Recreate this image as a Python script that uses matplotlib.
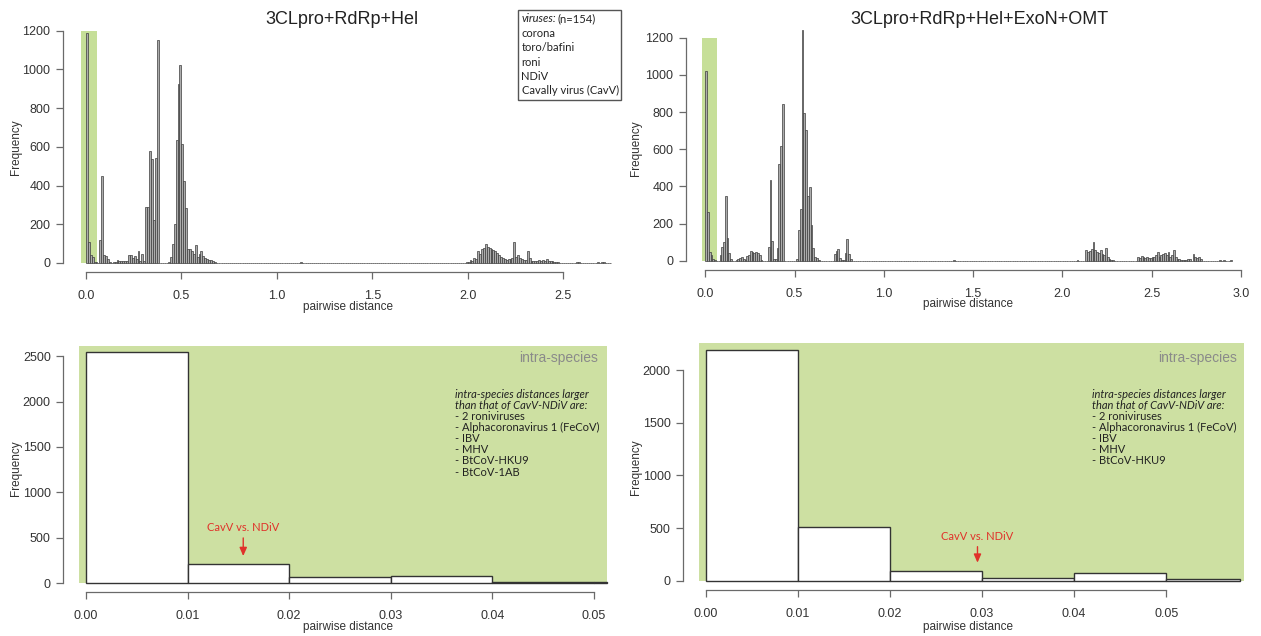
import matplotlib
matplotlib.use('Agg')
import matplotlib.pyplot as plt
import numpy as np
from matplotlib.patches import Rectangle

# ---------------- data ----------------
BIN_W = 0.01
# top-left histogram (3CLpro+RdRp+Hel): bin index (width 0.01) and counts
tl_bins = [0, 1, 2, 3, 4, 5, 7, 8, 9, 10, 11, 12,
           14, 15, 16, 17, 18, 19, 20, 21, 22, 23, 24, 25, 26, 27, 28, 29, 30,
           31, 32, 33, 34, 35, 36, 37,
           43, 44, 45, 46, 47, 48, 49, 50, 51, 52, 53, 54, 55, 56, 57, 58, 59,
           60, 61, 62, 63, 64, 65, 66, 67,
           112,
           199, 200, 201, 202, 203, 204, 205, 206, 207, 208, 209, 210, 211, 212,
           213, 214, 215, 216, 217, 218, 219, 220, 221, 222, 223, 224, 225, 226,
           227, 228, 229, 230, 231, 232, 233, 234, 235, 236, 237, 238, 239, 240,
           241, 242, 243, 244, 245, 246, 247, 257, 258, 268, 270, 271, 274]
tl_counts = [1190, 110, 40, 30, 5, 3, 120, 450, 42, 38, 20, 5,
             5, 3, 14, 8, 10, 8, 12, 12, 42, 40, 28, 35, 20, 62, 8, 45, 10,
             290, 290, 580, 535, 220, 540, 1150,
             3, 31, 100, 203, 634, 927, 1022, 617, 422, 286, 74, 70, 60, 45, 91, 30, 48,
             60, 34, 28, 22, 17, 14, 8, 4,
             3,
             3, 5, 15, 10, 25, 20, 60, 45, 70, 80, 100, 85, 80, 72,
             65, 60, 50, 40, 30, 25, 20, 18, 22, 20, 25, 110, 30, 40,
             25, 20, 15, 15, 60, 25, 12, 10, 10, 10, 15, 10, 18, 10,
             20, 10, 12, 8, 5, 5, 3, 3, 3, 3, 4, 4, 2]

# top-right histogram (3CLpro+RdRp+Hel+ExoN+OMT)
tr_bins = [0, 1, 2, 3, 4, 5, 8, 9, 10, 11, 12, 13, 14,
           17, 18, 19, 20, 21, 22, 23, 24, 25, 26, 27, 28, 29, 30, 31,
           35, 36, 37, 38, 39, 40, 41, 42, 43,
           51, 52, 53, 54, 55, 56, 57, 58, 59, 60, 61, 62, 63,
           72, 73, 74, 75, 76, 77, 78, 79, 80, 81,
           139, 208,
           213, 214, 215, 216, 217, 218, 219, 220, 221, 222, 223, 224, 225, 226, 227, 228,
           242, 243, 244, 245, 246, 247, 248, 249, 250, 251, 252, 253, 254, 255, 256,
           257, 258, 259, 260, 261, 262, 263, 264, 265, 266, 267, 268, 269, 270, 271,
           273, 274, 275, 276, 277, 288, 290, 294]
tr_counts = [1020, 260, 48, 30, 10, 3, 30, 75, 102, 348, 120, 40, 7,
             5, 8, 15, 18, 10, 5, 25, 30, 50, 45, 40, 45, 40, 28, 5,
             72, 434, 108, 7, 10, 66, 520, 619, 843,
             10, 165, 280, 1241, 793, 703, 350, 398, 190, 66, 22, 16, 5,
             36, 54, 61, 12, 6, 6, 40, 115, 34, 7,
             3, 2,
             57, 48, 52, 63, 99, 60, 48, 39, 57, 34, 30, 66, 21, 10, 5, 3,
             21, 12, 27, 18, 12, 18, 12, 15, 21, 18, 30, 48, 21, 28, 34,
             39, 30, 45, 20, 30, 57, 21, 10, 7, 5, 5, 5, 5, 9, 9,
             34, 18, 15, 20, 7, 3, 5, 2]

# bottom panels (intra-species zoom)
bl_edges = [0.0, 0.01, 0.02, 0.03, 0.04, 0.05, 0.0513]
bl_counts = [2540, 212, 69, 77, 12, 12]
br_edges = [0.0, 0.01, 0.02, 0.03, 0.04, 0.05, 0.058]
br_counts = [2190, 513, 95, 22, 70, 16]

top_left_xticks = [0.0, 0.5, 1.0, 1.5, 2.0, 2.5]
top_right_xticks = [0.0, 0.5, 1.0, 1.5, 2.0, 2.5, 3.0]
top_yticks = [0, 200, 400, 600, 800, 1000, 1200]
bottom_xticks = [0.00, 0.01, 0.02, 0.03, 0.04, 0.05]
bl_yticks = [0, 500, 1000, 1500, 2000, 2500]
br_yticks = [0, 500, 1000, 1500, 2000]

legend_lines = ["corona", "toro/bafini", "roni", "NDiV", "Cavally virus (CavV)"]
bl_note = ["- 2 roniviruses", "- Alphacoronavirus 1 (FeCoV)", "- IBV", "- MHV",
           "- BtCoV-HKU9", "- BtCoV-1AB"]
br_note = ["- 2 roniviruses", "- Alphacoronavirus 1 (FeCoV)", "- IBV", "- MHV",
           "- BtCoV-HKU9"]

# ---------------- figure ----------------
W, H = 1261, 636
fig = plt.figure(figsize=(W / 100, H / 100), dpi=100)
RF = 'Liberation Sans'
AF = 'Lato'
AXC = '#6a6a6a'
TXC = '#333333'
GREEN_T = '#c6df98'
GREEN_B = '#cde0a2'
RED = '#e0322a'


def ax_px(x0, x1, ytop, ybot):
    return fig.add_axes([x0 / W, 1 - ybot / H, (x1 - x0) / W, (ybot - ytop) / H])


def ftext(x, y, s, **kw):
    fig.text(x / W, 1 - y / H, s, **kw)


def style(ax, xt, xl, yt, xb, yb):
    for s in ['top', 'right']:
        ax.spines[s].set_visible(False)
    for s in ['left', 'bottom']:
        ax.spines[s].set_color(AXC)
        ax.spines[s].set_linewidth(0.9)
    ax.spines['left'].set_bounds(*yb)
    ax.spines['bottom'].set_bounds(*xb)
    ax.set_xticks(xt)
    ax.set_xticklabels(xl)
    ax.set_yticks(yt)
    ax.set_yticklabels([str(v) for v in yt])
    ax.tick_params(direction='out', length=5, width=0.9, color=AXC,
                   labelsize=9, labelcolor=TXC)
    ax.tick_params(axis='x', pad=8)
    ax.tick_params(axis='y', pad=4)
    for lab in ax.get_xticklabels() + ax.get_yticklabels():
        lab.set_fontfamily(RF)
    ax.patch.set_alpha(0)


def top_hist(ax, bins, counts):
    n = max(bins) + 1
    full = np.zeros(n)
    full[np.array(bins)] = counts
    lefts = np.arange(n) * BIN_W
    ax.bar(lefts, full, width=BIN_W, align='edge', color='#acacac',
           edgecolor='#3c3c3c', linewidth=0.5, zorder=2)


# ---- top-left
ax1 = ax_px(63, 634, 23.4, 272)
ax1.add_patch(Rectangle((-0.025, 0), 0.083, 1200, facecolor=GREEN_T,
                        edgecolor='none', zorder=0))
top_hist(ax1, tl_bins, tl_counts)
ax1.set_xlim(-0.1205, 2.872)
ax1.set_ylim(-46.5, 1237.6)
style(ax1, top_left_xticks, [f"{v:.1f}" for v in top_left_xticks], top_yticks,
      (0, 2.5), (0, 1200))

# ---- top-right
ax2 = ax_px(686, 1254, 20.9, 269.6)
ax2.add_patch(Rectangle((-0.02, 0), 0.084, 1200, facecolor=GREEN_T,
                        edgecolor='none', zorder=0))
top_hist(ax2, tr_bins, tr_counts)
ax2.set_xlim(-0.108, 3.074)
ax2.set_ylim(-47.9, 1290.6)
style(ax2, top_right_xticks, [f"{v:.1f}" for v in top_right_xticks], top_yticks,
      (0, 3.0), (0, 1200))

# ---- bottom-left
ax3 = ax_px(63.3, 614.3, 343.2, 592.3)
ax3.add_patch(Rectangle((-0.0007, 0), 0.052, 2610, facecolor=GREEN_B,
                        edgecolor='none', zorder=0))
ax3.bar(bl_edges[:-1], bl_counts, width=np.diff(bl_edges), align='edge',
        color='white', edgecolor='#333333', linewidth=1.0, zorder=2)
ax3.set_xlim(-0.00223, 0.0520)
ax3.set_ylim(-99, 2641.6)
style(ax3, bottom_xticks, [f"{v:.2f}" for v in bottom_xticks], bl_yticks,
      (0, 0.05), (0, 2500))

# ---- bottom-right
ax4 = ax_px(683.3, 1261, 340.8, 590)
ax4.add_patch(Rectangle((-0.0008, 0), 0.0593, 2254, facecolor=GREEN_B,
                        edgecolor='none', zorder=0))
ax4.bar(br_edges[:-1], br_counts, width=np.diff(br_edges), align='edge',
        color='white', edgecolor='#333333', linewidth=1.0, zorder=2)
ax4.set_xlim(-0.00246, 0.0603)
ax4.set_ylim(-88.3, 2277.6)
style(ax4, bottom_xticks, [f"{v:.2f}" for v in bottom_xticks], br_yticks,
      (0, 0.05), (0, 2000))

# ---- red annotations
for ax, xd, y_txt, y0, y1 in [(ax3, 0.01548, 612, 499, 300),
                              (ax4, 0.0295, 418, 323, 171)]:
    ax.text(xd, y_txt, "CavV vs. NDiV", color=RED, fontsize=8, family=AF,
            ha='center', va='center', zorder=5)
    ax.annotate("", xy=(xd, y1), xytext=(xd, y0),
                arrowprops=dict(arrowstyle='-|>,head_length=0.5,head_width=0.22',
                                color=RED, lw=1.0, shrinkA=0, shrinkB=0), zorder=5)

# ---- text labels (figure pixels)
ftext(342, 19, "3CLpro+RdRp+Hel", fontsize=13, family=RF, ha='center',
      va='center', color='#222')
ftext(979, 19, "3CLpro+RdRp+Hel+ExoN+OMT", fontsize=13, family=RF, ha='center',
      va='center', color='#222')
for (x, y) in [(348, 307), (968, 304), (348, 627), (968, 627)]:
    ftext(x, y, "pairwise distance", fontsize=8.5, family=RF, ha='center',
          va='center', color=TXC)
for (x, y) in [(16, 147), (636, 148), (16, 468), (636, 467)]:
    ftext(x, y, "Frequency", fontsize=8.5, family=RF, ha='center', va='center',
          rotation=90, color=TXC)

# legend box
fig.patches.append(Rectangle((518 / W, 1 - 100 / H), 103 / W, 90 / H,
                             transform=fig.transFigure, facecolor='white',
                             edgecolor='#555', linewidth=1.0, zorder=1))
ftext(521.5, 18.5, "viruses:", fontsize=8, family=AF, style='italic',
      ha='left', va='center', color='#222')
ftext(557, 18.5, "(n=154)", fontsize=8, family=AF, ha='left', va='center',
      color='#222')
for i, s in enumerate(legend_lines):
    ftext(521.5, 33.2 + i * 14.4, s, fontsize=8, family=AF, ha='left',
          va='center', color='#222')

# intra-species labels and notes
ftext(598, 358, "intra-species", fontsize=10, family=RF, ha='right',
      va='center', color='#8a8a8a')
ftext(1237, 358, "intra-species", fontsize=10, family=RF, ha='right',
      va='center', color='#8a8a8a')
for (x0, note) in [(455, bl_note), (1091.5, br_note)]:
    ftext(x0, 394.5, "intra-species distances larger", fontsize=8, family=AF,
          style='italic', ha='left', va='center', color='#222')
    ftext(x0, 405.5, "than that of CavV-NDiV are:", fontsize=8, family=AF,
          style='italic', ha='left', va='center', color='#222')
    for i, s in enumerate(note):
        ftext(x0, 416.5 + i * 11.1, s, fontsize=8, family=AF, ha='left',
              va='center', color='#222')

fig.savefig('out.png', dpi=100)
